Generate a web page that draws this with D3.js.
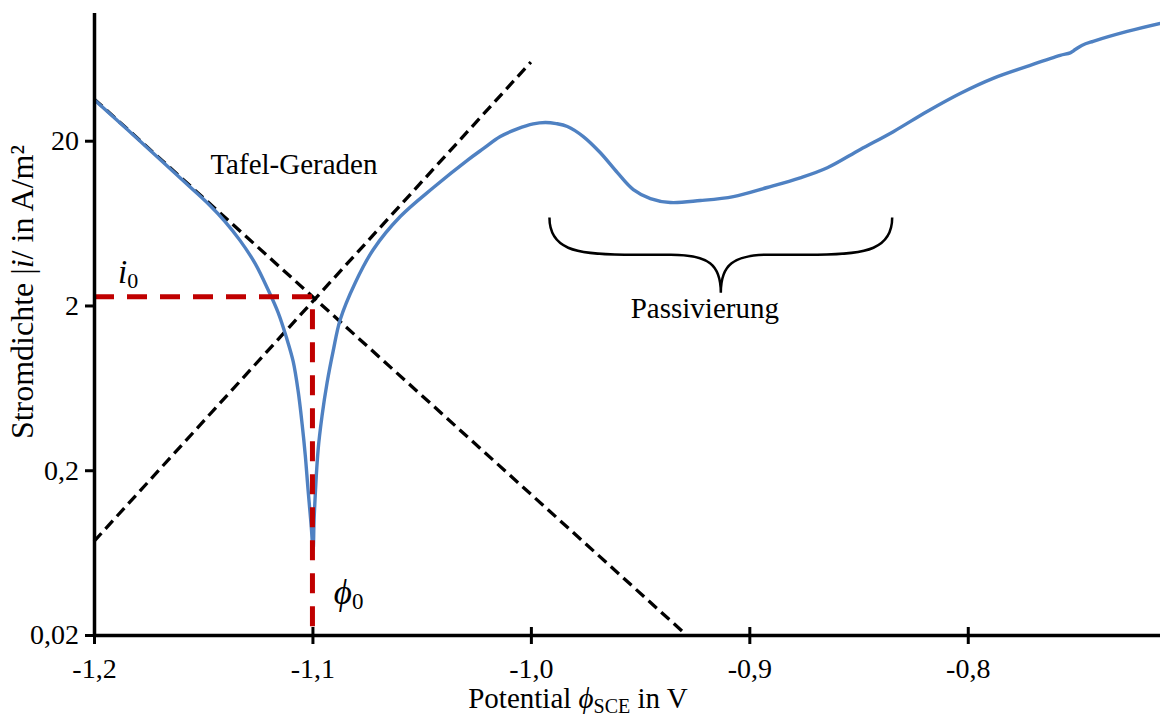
<!DOCTYPE html>
<html>
<head>
<meta charset="utf-8">
<script src="https://cdn.jsdelivr.net/npm/d3@7"></script>
<style>
  html, body { margin: 0; padding: 0; background: #fff; }
  svg { display: block; }
  text { font-family: "Liberation Serif", "Times New Roman", serif; fill: #000; }
</style>
</head>
<body>
<svg id="chart" width="1160" height="720"></svg>
<script>
// Polarisationskurve: Potential (V vs. SCE) und Betrag der Stromdichte (A/m²)
const potential = [
  -1.2, -1.1741, -1.1560, -1.1469, -1.1400, -1.1331, -1.1262, -1.1203, -1.1157,
  -1.1120, -1.1088, -1.1065, -1.1047, -1.1033, -1.1020, -1.1006, -1.0997,
  -1.0992, -1.0974, -1.0956, -1.0933, -1.0905, -1.0873, -1.0804, -1.0722,
  -1.0598, -1.0446, -1.0291, -1.0218, -1.0140, -1.0062, -0.9989, -0.9934,
  -0.9884, -0.9833, -0.9760, -0.9682, -0.9604, -0.9531, -0.9453, -0.9362,
  -0.9224, -0.9073, -0.8918, -0.8767, -0.8643, -0.8492, -0.8341, -0.8186,
  -0.8035, -0.7884, -0.7728, -0.7577, -0.7531, -0.7508, -0.7476, -0.7426,
  -0.7270, -0.7119
];
const currentDensity = [
  35.6, 17.4, 10.47, 8.08, 6.46, 4.95, 3.59, 2.49, 1.81,
  1.29, 0.912, 0.598, 0.378, 0.248, 0.152, 0.0931, 0.0656,
  0.104, 0.266, 0.428, 0.679, 1.06, 1.64, 2.75, 4.36,
  6.93, 10.4, 15.2, 17.9, 21.2, 23.6, 25.3, 25.8,
  25.4, 24.4, 21.2, 16.9, 12.8, 10.1, 8.91, 8.43,
  8.67, 9.16, 10.4, 11.9, 13.7, 17.7, 22.7, 30.1,
  38.7, 47.8, 56.5, 65.9, 68.3, 71.5, 76.0, 80.2,
  92.1, 103
];

// Tafel-Geraden (Endpunkte)
const tafelCathodicE = [-1.2, -0.9288];
const tafelCathodicI = [35.9, 0.02];
const tafelAnodicE = [-1.2, -1.0];
const tafelAnodicI = [0.074, 60];

// Korrosionspotential und Korrosionsstromdichte
const corrosionPotential = -1.1;
const corrosionCurrent = 2.26;

// Bereich der Passivierung
const passivationRange = [-0.9915, -0.8346];

// Achsen
const xDomain = [-1.2, -0.712];
const yDomain = [0.02, 120];
const xTickValues = [-1.2, -1.1, -1.0, -0.9, -0.8];
const xTickLabels = ["-1,2", "-1,1", "-1,0", "-0,9", "-0,8"];
const yTickValues = [0.02, 0.2, 2, 20];
const yTickLabels = ["0,02", "0,2", "2", "20"];

const svg = d3.select("#chart");
const plotLeft = 94, plotRight = 1160, plotTop = 12.5, plotBottom = 635;

const x = d3.scaleLinear().domain(xDomain).range([plotLeft, plotRight]);
const y = d3.scaleLog().domain(yDomain).range([plotBottom, plotTop]);

svg.append("rect").attr("width", 1160).attr("height", 720).attr("fill", "#fff");

// Tafel-Geraden
const tafelLine = d3.line().x(d => x(d[0])).y(d => y(d[1]));
const tafelSets = [
  d3.zip(tafelCathodicE, tafelCathodicI),
  d3.zip(tafelAnodicE, tafelAnodicI)
];
svg.append("g").selectAll("path").data(tafelSets).join("path")
  .attr("d", tafelLine)
  .attr("fill", "none")
  .attr("stroke", "#000")
  .attr("stroke-width", 3.3)
  .attr("stroke-dasharray", "11,6");

// Messkurve
const curve = d3.line()
  .x(d => x(d[0]))
  .y(d => y(d[1]))
  .curve(d3.curveCatmullRom.alpha(0.5));
svg.append("path")
  .datum(d3.zip(potential, currentDensity))
  .attr("d", curve)
  .attr("fill", "none")
  .attr("stroke", "#4F81C2")
  .attr("stroke-width", 3.4)
  .attr("stroke-linejoin", "round");

// Hilfslinien für i0 und phi0
const guide = [
  [xDomain[0], corrosionCurrent],
  [corrosionPotential, corrosionCurrent],
  [corrosionPotential, yDomain[0]]
];
svg.append("path")
  .datum(guide)
  .attr("d", d3.line().x(d => x(d[0])).y(d => y(d[1])))
  .attr("fill", "none")
  .attr("stroke", "#C00000")
  .attr("stroke-width", 5)
  .attr("stroke-dasharray", "20,13");

// x-Achse
const xAxis = d3.axisBottom(x)
  .tickValues(xTickValues)
  .tickFormat((d, i) => xTickLabels[i])
  .tickSizeInner(9)
  .tickSizeOuter(0)
  .tickPadding(14);
const gx = svg.append("g").attr("transform", `translate(0,${plotBottom})`).call(xAxis);
gx.select(".domain").attr("stroke", "#000").attr("stroke-width", 3.5);
gx.selectAll(".tick line").attr("y1", -8).attr("stroke", "#000").attr("stroke-width", 3);
gx.selectAll(".tick text").attr("font-size", 28).attr("font-family", "Liberation Serif");

// y-Achse (logarithmisch)
const yAxis = d3.axisLeft(y)
  .tickValues(yTickValues)
  .tickFormat((d, i) => yTickLabels[i])
  .tickSizeInner(9)
  .tickSizeOuter(0)
  .tickPadding(6);
const gy = svg.append("g").attr("transform", `translate(${plotLeft},0)`).call(yAxis);
gy.select(".domain").attr("stroke", "#000").attr("stroke-width", 3.5);
gy.selectAll(".tick line").attr("stroke", "#000").attr("stroke-width", 3);
gy.selectAll(".tick text").attr("font-size", 28).attr("font-family", "Liberation Serif");

// Achsentitel
const yTitle = svg.append("text")
  .attr("transform", "translate(33,292) rotate(-90)")
  .attr("text-anchor", "middle")
  .attr("font-size", 32);
yTitle.append("tspan").text("Stromdichte |");
yTitle.append("tspan").attr("font-style", "italic").text("i");
yTitle.append("tspan").text("/ in A/m²");

const xTitle = svg.append("text")
  .attr("x", 578)
  .attr("y", 708)
  .attr("text-anchor", "middle")
  .attr("font-size", 29);
xTitle.append("tspan").text("Potential ");
xTitle.append("tspan").attr("font-style", "italic").text("ϕ");
xTitle.append("tspan").attr("font-size", 20).attr("dy", 5).text("SCE");
xTitle.append("tspan").attr("dy", -5).text(" in V");

// Beschriftungen
svg.append("text")
  .attr("x", x(-1.1467))
  .attr("y", y(12.5))
  .attr("font-size", 29)
  .text("Tafel-Geraden");

const i0 = svg.append("text")
  .attr("x", x(-1.189))
  .attr("y", y(2.75))
  .attr("font-size", 33);
i0.append("tspan").attr("font-style", "italic").text("i");
i0.append("tspan").attr("font-size", 22).attr("dy", 5).text("0");

const phi0 = svg.append("text")
  .attr("x", x(-1.0902))
  .attr("y", y(0.031))
  .attr("font-size", 35);
phi0.append("tspan").attr("font-style", "italic").text("ϕ");
phi0.append("tspan").attr("font-size", 23).attr("dy", 5).text("0");

// geschweifte Klammer für die Passivierung
const bx0 = x(passivationRange[0]);
const bx1 = x(passivationRange[1]);
const bxm = (bx0 + bx1) / 2;
const byTop = y(6.83), byMid = y(4.07), byTip = y(2.39);
const brace = [
  `M${bx0},${byTop}`,
  `C${bx0},${byMid - 6} ${bx0 + 25},${byMid} ${bx0 + 75},${byMid}`,
  `L${bxm - 50},${byMid}`,
  `C${bxm - 12},${byMid} ${bxm},${byMid + 10} ${bxm},${byTip}`,
  `C${bxm},${byMid + 10} ${bxm + 12},${byMid} ${bxm + 50},${byMid}`,
  `L${bx1 - 75},${byMid}`,
  `C${bx1 - 25},${byMid} ${bx1},${byMid - 6} ${bx1},${byTop}`
].join(" ");
svg.append("path")
  .attr("d", brace)
  .attr("fill", "none")
  .attr("stroke", "#000")
  .attr("stroke-width", 2.5);

svg.append("text")
  .attr("x", bxm - 16)
  .attr("y", y(1.69))
  .attr("text-anchor", "middle")
  .attr("font-size", 29)
  .text("Passivierung");
</script>
</body>
</html>
